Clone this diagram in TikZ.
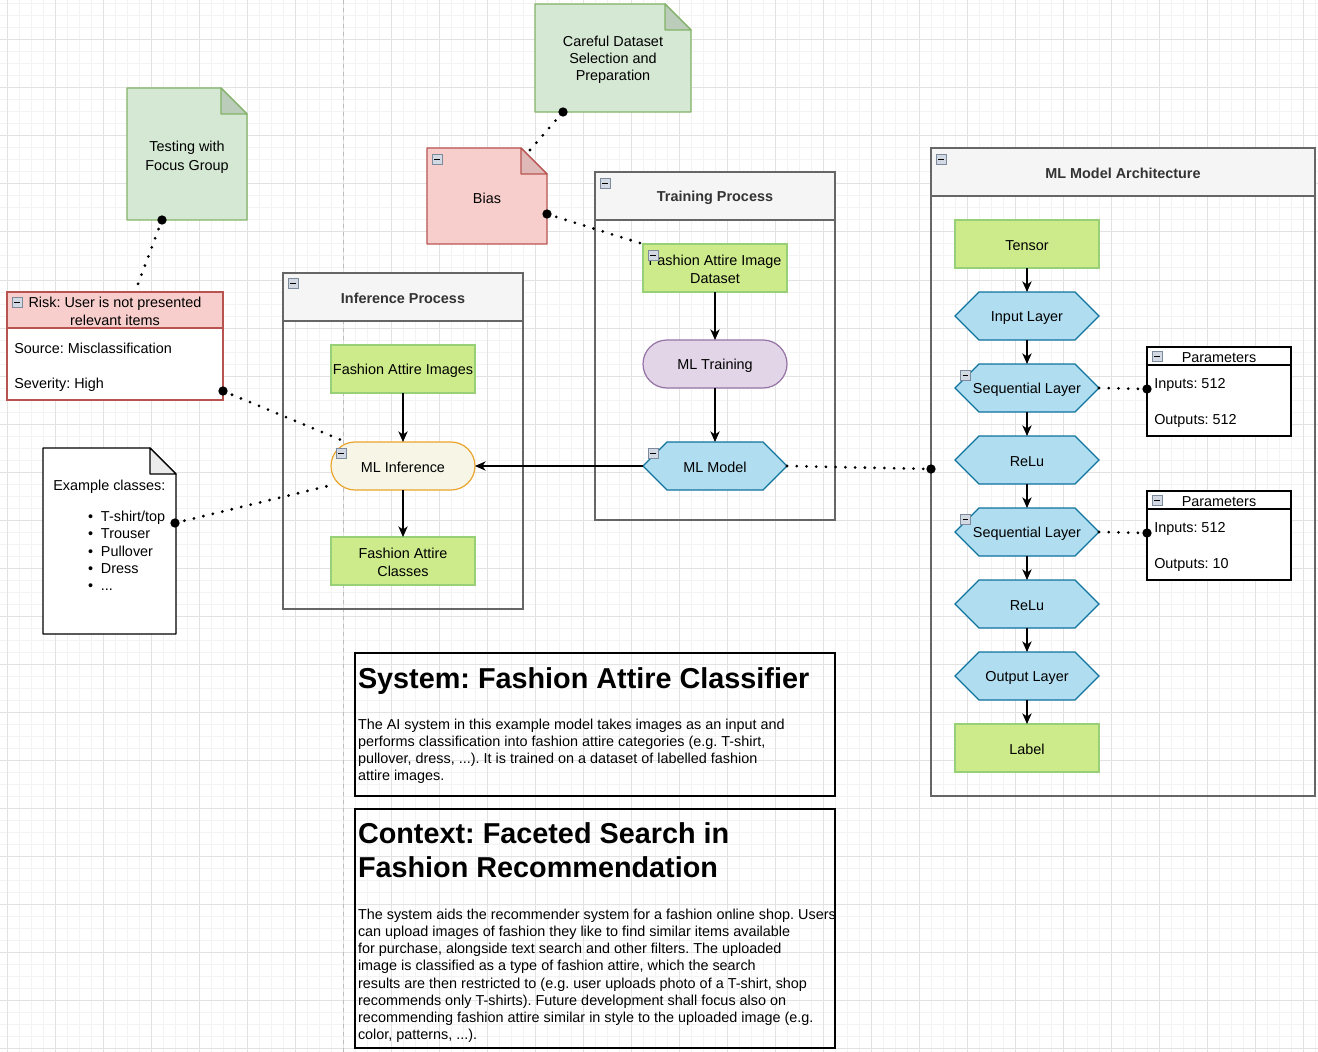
\documentclass[tikz,border=0pt]{standalone}
\usepackage{fontspec}
\setmainfont{Liberation Sans}
\usetikzlibrary{arrows.meta}
\frenchspacing
\definecolor{gridmaj}{HTML}{E2E2E2}
\definecolor{gridmin}{HTML}{F3F3F3}
\definecolor{pagedash}{HTML}{BDBDBD}
\definecolor{ngreenF}{HTML}{D5E8D4}
\definecolor{ngreenS}{HTML}{82B366}
\definecolor{nredF}{HTML}{F8CECC}
\definecolor{nredS}{HTML}{B85450}
\definecolor{lgreenF}{HTML}{CDEB8B}
\definecolor{lgreenS}{HTML}{97D077}
\definecolor{hexF}{HTML}{B1DDF0}
\definecolor{hexS}{HTML}{10739E}
\definecolor{purF}{HTML}{E1D5E7}
\definecolor{purS}{HTML}{9673A6}
\definecolor{infF}{HTML}{F7F5E6}
\definecolor{infS}{HTML}{EAA52E}
\definecolor{laneF}{HTML}{F5F5F5}
\definecolor{laneS}{HTML}{666666}
\definecolor{laneT}{HTML}{333333}
\definecolor{iconF}{HTML}{D3D9E2}
\definecolor{iconS}{HTML}{7D8A9B}
\definecolor{foldgray}{HTML}{EBEBEB}
\newcommand{\st}{\rule[-1.25pt]{0pt}{12.05pt}}
\tikzset{
  txt/.style={font=\fontsize{10.8}{12.96}\selectfont, align=center, inner sep=0pt, text=black,
    execute at begin node=\st, execute at end node=\st},
  ltxt/.style={txt, align=left, anchor=west},
  box/.style={txt, minimum width=108pt, minimum height=36pt, outer sep=0pt, line width=0.9pt},
  greenbox/.style={box, draw=lgreenS, fill=lgreenF},
  pillpur/.style={box, draw=purS, fill=purF, rounded corners=18pt},
  pillinf/.style={box, draw=infS, fill=infF, rounded corners=18pt},
  hexshape/.style={draw=hexS, fill=hexF, line width=0.9pt, line join=miter},
  flow/.style={-{Stealth[length=8pt,width=7pt,inset=2.4pt]}, line width=0.9pt, black},
  dots/.style={line width=2.3pt, dash pattern=on 0pt off 7.3pt, line cap=round, black},
  colicon/.style={draw=iconS, fill=iconF, minimum size=7.4pt, inner sep=0pt, line width=0.6pt,
    path picture={\draw[black, line width=0.7pt] ([xshift=1.5pt]path picture bounding box.west) -- ([xshift=-1.5pt]path picture bounding box.east);}},
  lanehead/.style={draw=laneS, fill=laneF, line width=0.9pt, anchor=north west, inner sep=0pt, outer sep=0pt,
    minimum height=36pt, font=\fontsize{10.8}{12.96}\selectfont\bfseries, text=laneT,
    execute at begin node=\st},
  lanebody/.style={draw=laneS, line width=0.9pt},
  para/.style={anchor=base west, inner sep=0pt, outer sep=0pt},
}
\newcommand{\hexnode}[4]{%
  \draw[hexshape] (#2-72,#3) -- (#2-48,#3-24) -- (#2+48,#3-24) -- (#2+72,#3) -- (#2+48,#3+24) -- (#2-48,#3+24) -- cycle;
  \node[box] (#1) at (#2,#3) {#4};}
\newcommand{\notebox}[7]{%
  \draw[line width=0.9pt, draw=#6, fill=#5, line join=round] (#1,#2) -- (#3-26,#2) -- (#3,#2+26) -- (#3,#4) -- (#1,#4) -- cycle;
  \draw[line width=0.9pt, draw=#6, fill=#7, line join=round] (#3-26,#2) -- (#3-26,#2+26) -- (#3,#2+26) -- cycle;}
\begin{document}
\begin{tikzpicture}[x=0.75pt,y=-0.75pt]
\useasboundingbox (0,0) rectangle (1318,1052);
\fill[white] (0,0) rectangle (1318,1052);
% grid
\foreach \i in {0,...,111} \draw[gridmin, line width=0.75pt] (12*\i-5,-5) -- (12*\i-5,1060);
\foreach \j in {0,...,89} \draw[gridmin, line width=0.75pt] (-5,12*\j-8) -- (1325,12*\j-8);
\foreach \i in {0,...,27} \draw[gridmaj, line width=0.75pt] (7+48*\i,-5) -- (7+48*\i,1060);
\foreach \j in {0,...,22} \draw[gridmaj, line width=0.75pt] (-5,48*\j-8) -- (1325,48*\j-8);
\draw[pagedash, line width=0.75pt, dash pattern=on 3pt off 3pt] (343,0) -- (343,1052);

% swimlanes
\draw[lanebody] (283,273) rectangle (523,609);
\node[lanehead, minimum width=180pt] (infhead) at (283,273) {Inference Process};
\draw[lanebody] (595,172) rectangle (835,520);
\node[lanehead, minimum width=180pt] (trhead) at (595,172) {Training Process};
\draw[lanebody] (931,148) rectangle (1315,796);
\node[lanehead, minimum width=288pt] (archhead) at (931,148) {ML Model Architecture};

% text boxes
\draw[black, line width=0.9pt] (355,653) rectangle (835,796);
\node[para] (systitle) at (358,688) {\fontsize{21.6}{25.92}\selectfont\bfseries System: Fashion Attire Classifier};
\node[para] (sysbody) at (358,729) {\parbox[t]{470pt}{\raggedright\fontsize{10.8}{12.96}\selectfont
The AI system in this example model takes images as an input and\\
performs classification into fashion attire categories (e.g. T-shirt,\\
pullover, dress, ...). It is trained on a dataset of labelled fashion\\
attire images.}};
\draw[black, line width=0.9pt] (355,809) rectangle (835,1048);
\node[para] (ctxtitle) at (358,843) {\parbox[t]{470pt}{\raggedright\fontsize{21.6}{26.2}\selectfont\bfseries
Context: Faceted Search in\\ Fashion Recommendation}};
\node[para] (ctxbody) at (358,919) {\parbox[t]{480pt}{\raggedright\fontsize{10.8}{12.96}\selectfont
The system aids the recommender system for a fashion online shop. Users\\
can upload images of fashion they like to find similar items available\\
for purchase, alongside text search and other filters. The uploaded\\
image is classified as a type of fashion attire, which the search\\
results are then restricted to (e.g. user uploads photo of a T-shirt, shop\\
recommends only T-shirts). Future development shall focus also on\\
recommending fashion attire similar in style to the uploaded image (e.g.\\
color, patterns, ...).}};

% notes
\notebox{127}{88}{247}{220}{ngreenF}{ngreenS}{ngreenF!88!black}
\node[txt] (focus) at (187,155.5) {\st Testing with\\Focus Group\st};
\notebox{535}{4}{691}{112}{ngreenF}{ngreenS}{ngreenF!88!black}
\node[txt] (careful) at (613,58) {\st Careful Dataset\\Selection and\\Preparation\st};
\notebox{427}{148}{547}{244}{nredF}{nredS}{nredF!90!black}
\node[txt] (bias) at (487,197) {Bias};
\notebox{43}{448}{176}{634}{white}{black}{foldgray}
\node[ltxt] (exhead) at (53,485) {Example classes:};
\node[para] (exlist) at (88,521.5) {\parbox[t]{80pt}{\fontsize{10.8}{12.96}\selectfont
\makebox[9.75pt][l]{\textbullet}T-shirt/top\\
\makebox[9.75pt][l]{\textbullet}Trouser\\
\makebox[9.75pt][l]{\textbullet}Pullover\\
\makebox[9.75pt][l]{\textbullet}Dress\\
\makebox[9.75pt][l]{\textbullet}...}};

% risk box
\draw[draw=nredS, fill=white, line width=0.9pt] (7,292) rectangle (223,400);
\node[txt, draw=nredS, fill=nredF, line width=0.9pt, anchor=north west, minimum width=162pt, minimum height=27pt, outer sep=0pt] (riskhead) at (7,292) {\st Risk: User is not presented\\relevant items\st};
\node[ltxt] (risksrc) at (14,347) {Source: Misclassification};
\node[ltxt] (risksev) at (14,383) {Severity: High};

% parameter boxes
\draw[black, fill=white, line width=0.9pt] (1147,347) rectangle (1291,436);
\node[txt, draw=black, fill=white, line width=0.9pt, anchor=north west, minimum width=108pt, minimum height=13.5pt, outer sep=0pt] (parhead1) at (1147,347) {Parameters};
\node[ltxt] (parin1) at (1154,383) {Inputs: 512};
\node[ltxt] (parout1) at (1154,419) {Outputs: 512};
\draw[black, fill=white, line width=0.9pt] (1147,491) rectangle (1291,580);
\node[txt, draw=black, fill=white, line width=0.9pt, anchor=north west, minimum width=108pt, minimum height=13.5pt, outer sep=0pt] (parhead2) at (1147,491) {Parameters};
\node[ltxt] (parin2) at (1154,527) {Inputs: 512};
\node[ltxt] (parout2) at (1154,563) {Outputs: 10};

% inference process
\node[greenbox] (faimg) at (403,369) {Fashion Attire Images};
\node[pillinf] (mlinf) at (403,466) {ML Inference};
\node[greenbox] (faclass) at (403,561) {\st Fashion Attire\\Classes\st};

% training process
\node[greenbox] (faid) at (715,268) {\st Fashion Attire Image\\Dataset\st};
\node[pillpur] (mltrain) at (715,364) {ML Training};
\hexnode{mlmodel}{715}{466}{ML Model}

% architecture
\node[greenbox] (tensor) at (1027,244) {Tensor};
\hexnode{inl}{1027}{316}{Input Layer}
\hexnode{seqa}{1027}{388}{Sequential Layer}
\hexnode{relua}{1027}{460}{ReLu}
\hexnode{seqb}{1027}{532}{Sequential Layer}
\hexnode{relub}{1027}{604}{ReLu}
\hexnode{outl}{1027}{676}{Output Layer}
\node[greenbox] (lbl) at (1027,748) {Label};

% flow arrows
\draw[flow] (faimg) -- (mlinf);
\draw[flow] (mlinf) -- (faclass);
\draw[flow] (faid) -- (mltrain);
\draw[flow] (mltrain) -- (mlmodel);
\draw[flow] (mlmodel.west) -- (mlinf.east);
\foreach \a/\b in {tensor/inl, inl/seqa, seqa/relua, relua/seqb, seqb/relub, relub/outl, outl/lbl}
  \draw[flow] (\a) -- (\b);

% dotted associations
\coordinate (focusdot) at (162,220);
\coordinate (risktop) at (135,292);
\coordinate (riskdot) at (223,391);
\coordinate (inftop) at (346,442);
\coordinate (exdot) at (175,523);
\coordinate (infleft) at (332,485);
\coordinate (biasdot) at (547,214);
\coordinate (biastop) at (530,150);
\coordinate (careddot) at (563,112);
\coordinate (archdot) at (931,469);
\coordinate (pardot1) at (1147,389);
\coordinate (pardot2) at (1147,533);
\draw[dots] (focusdot) -- (risktop);
\draw[dots] (riskdot) -- (inftop);
\draw[dots] (exdot) -- (infleft);
\draw[dots] (biasdot) -- (faid.north west);
\draw[dots] (biastop) -- (careddot);
\draw[dots] (mlmodel.east) -- (archdot);
\draw[dots] (seqa.east) -- (pardot1);
\draw[dots] (seqb.east) -- (pardot2);
\foreach \p in {focusdot, riskdot, exdot, biasdot, careddot, archdot, pardot1, pardot2}
  \fill[black] (\p) circle[radius=3.5pt];

% collapse icons
\node[colicon] (icinf) at (293,283) {};
\node[colicon] (ictr) at (605,183) {};
\node[colicon] (icarch) at (941,159) {};
\node[colicon] (icbias) at (437,159) {};
\node[colicon] (icfaid) at (653,255) {};
\node[colicon] (icmlinf) at (341,453) {};
\node[colicon] (icmlmod) at (653,453) {};
\node[colicon] (icseqa) at (965.5,375) {};
\node[colicon] (icseqb) at (965.5,519) {};
\node[colicon] (icrisk) at (17,302) {};
\node[colicon] (icpar1) at (1157,356) {};
\node[colicon] (icpar2) at (1157,500) {};
\end{tikzpicture}
\end{document}
